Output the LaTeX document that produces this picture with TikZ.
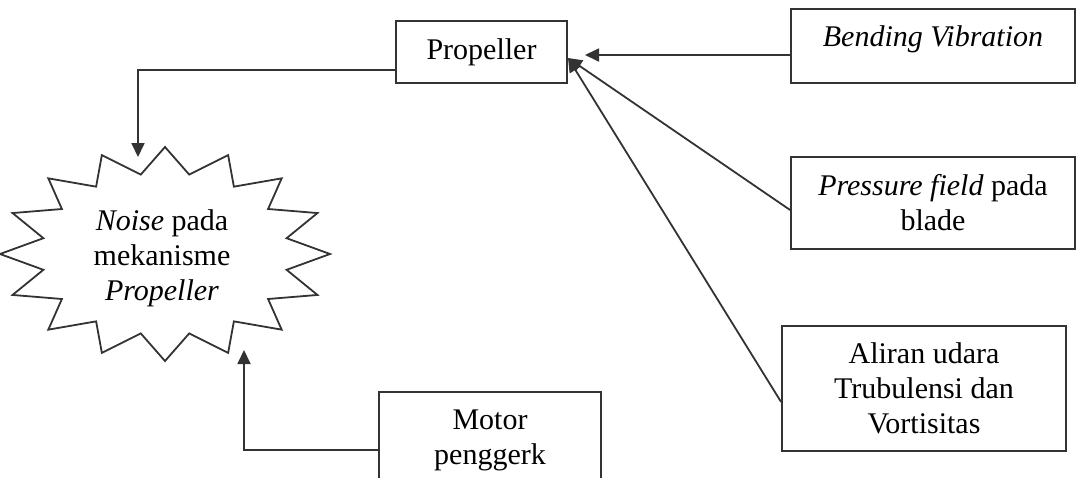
\documentclass[tikz,border=0pt]{standalone}
\usepackage{fontspec}
\setmainfont{Liberation Serif}
\usetikzlibrary{arrows.meta}
\begin{document}
\begin{tikzpicture}[x=0.5pt,y=-0.5pt,
  boxnode/.style={draw=black!80, line width=0.9pt, inner sep=0pt},
  txt/.style={font=\fontsize{15pt}{17.5pt}\selectfont, align=center, inner sep=0pt},
  conn/.style={draw=black!80, line width=0.9pt},
  arr/.style={conn, -{Triangle[length=7pt,width=6.5pt]}},
  starline/.style={draw=black!80, line width=0.9pt}]
\clip (0,0) rectangle (1081,477);
% boxes
\node[boxnode, txt, minimum width=85.5pt, minimum height=31pt] (prop) at (481.5,52) {Propeller};
\node[boxnode, minimum width=142pt, minimum height=37pt] (bend) at (933,46) {};
\node[txt, font=\fontsize{15pt}{17.5pt}\selectfont\itshape] (bendtxt) at (933,39) {Bending Vibration};
\node[boxnode, txt, minimum width=142pt, minimum height=46pt] (press) at (933,203) {\textit{Pressure field} pada\\blade};
\node[boxnode, txt, minimum width=142pt, minimum height=62.5pt] (aliran) at (924,388.5) {Aliran udara\\Trubulensi dan\\Vortisitas};
\node[boxnode, minimum width=111pt, minimum height=60pt] (motor) at (490,452) {};
\node[txt] (motortxt) at (490,440) {Motor\\penggerk};
% starburst
\draw[starline] (165,147)
  \foreach \k in {0,...,15} {
    -- ({165+124*cos(101.25+22.5*\k)},{254-81*sin(101.25+22.5*\k)})
    -- ({165+165*cos(112.5+22.5*\k)},{254-107*sin(112.5+22.5*\k)})
  } -- cycle;
\node[txt] (noise) at (162,258) {\textit{Noise} pada\\mekanisme\\\textit{Propeller}};
\coordinate (noisetop) at (138,157);
\coordinate (noisebot) at (244,350);
\coordinate (propin) at (585,55);
\coordinate (propcorner) at (568,58);
% connectors
\draw[arr] ([yshift=-9pt]prop.west) -| (noisetop);
\draw[arr] ([yshift=1pt]motor.west) -| (noisebot);
\draw[arr] ([yshift=-4.5pt]bend.west) -- (propin);
\draw[arr] ([yshift=-3.5pt]press.west) -- (propcorner);
\draw[arr] ([yshift=-6.75pt]aliran.west) -- (propcorner);
\end{tikzpicture}
\end{document}
